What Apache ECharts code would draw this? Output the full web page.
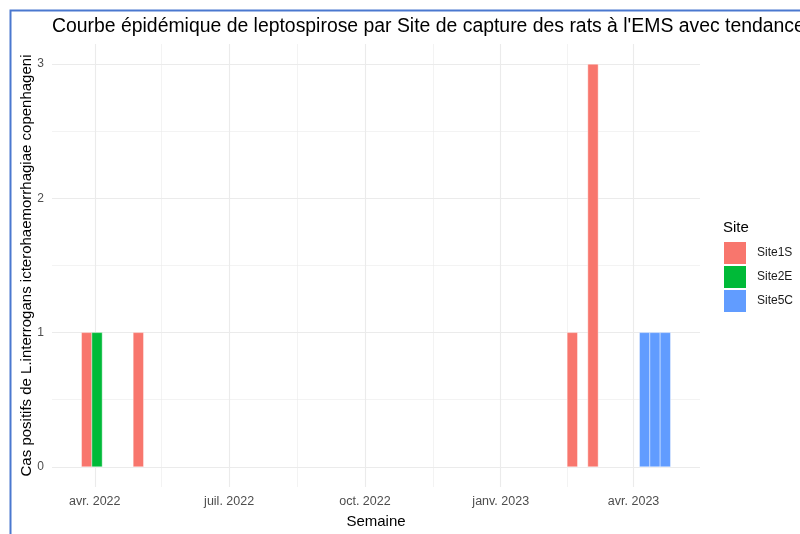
<!DOCTYPE html>
<html>
<head>
<meta charset="utf-8">
<script src="https://cdn.jsdelivr.net/npm/echarts@6/dist/echarts.min.js"></script>
<style>
  html, body { margin: 0; padding: 0; background: #ffffff; }
  #chart { width: 800px; height: 534px; }
</style>
</head>
<body>
<div id="chart"></div>
<script>
// Weekly bins (week start dates) and positive case counts per capture site
const weekStarts = ['2022-03-23', '2022-03-30', '2022-04-27', '2023-02-15', '2023-03-01', '2023-04-05', '2023-04-12', '2023-04-19'];
const site1S = [1, 0, 1, 1, 3, 0, 0, 0];
const site2E = [0, 1, 0, 0, 0, 0, 0, 0];
const site5C = [0, 0, 0, 0, 0, 1, 1, 1];
const siteNames = ['Site1S', 'Site2E', 'Site5C'];
const siteColors = ['#F8766D', '#00BA38', '#619CFF'];

// Axis breaks
const xBreakDates = ['2022-04-01', '2022-07-01', '2022-10-01', '2023-01-01', '2023-04-01'];
const xBreakLabels = ['avr. 2022', 'juil. 2022', 'oct. 2022', 'janv. 2023', 'avr. 2023'];
const xMinorDates = ['2022-05-16', '2022-08-16', '2022-11-16', '2023-02-15'];
const yBreaks = [0, 1, 2, 3];
const yMinorBreaks = [0.5, 1.5, 2.5];

const DAY = 86400000;
const ts = d => new Date(d + 'T00:00:00').getTime();
const xBreaks = xBreakDates.map(ts);
const xMinor = xMinorDates.map(ts);

const xMin = ts('2022-03-03');
const xMax = ts('2023-05-16');

function seriesFor(name, counts, color) {
  return {
    name: name,
    type: 'custom',
    xAxisIndex: 0,
    yAxisIndex: 0,
    itemStyle: { color: color },
    data: weekStarts.map((d, i) => [ts(d), counts[i]]).filter(p => p[1] > 0),
    encode: { x: 0, y: 1 },
    renderItem: function (params, api) {
      const start = api.value(0);
      const count = api.value(1);
      const topLeft = api.coord([start, count]);
      const bottomRight = api.coord([start + 7 * DAY, 0]);
      return {
        type: 'rect',
        shape: {
          x: topLeft[0],
          y: topLeft[1],
          width: bottomRight[0] - topLeft[0],
          height: bottomRight[1] - topLeft[1]
        },
        style: {
          fill: color,
          stroke: 'rgba(255,255,255,0.7)',
          lineWidth: 0.6
        }
      };
    }
  };
}

const grid = { left: 52, top: 44, width: 648, height: 443 };
const gridColor = '#ebebeb';

const option = {
  animation: false,
  backgroundColor: '#ffffff',
  textStyle: { fontFamily: 'Liberation Sans, Arial, sans-serif' },
  title: {
    text: "Courbe épidémique de leptospirose par Site de capture des rats à l'EMS avec tendance",
    left: 47,
    top: 12,
    textStyle: { fontSize: 19.4, fontWeight: 'normal', color: '#000000', fontFamily: 'Liberation Sans, Arial, sans-serif' }
  },
  grid: grid,
  legend: {
    orient: 'vertical',
    left: 719,
    top: 237,
    itemWidth: 22,
    itemHeight: 22,
    itemGap: 2,
    icon: 'rect',
    data: siteNames,
    selectedMode: false,
    textStyle: { fontSize: 12, color: '#1a1a1a', padding: [0, 0, 0, 6] }
  },
  graphic: [
    {
      type: 'text',
      left: 723,
      top: 220,
      style: { text: 'Site', fontSize: 15, fill: '#000000', fontFamily: 'Liberation Sans, Arial, sans-serif' }
    },
    {
      type: 'rect',
      shape: { x: 10.5, y: 10.5, width: 820, height: 560 },
      style: { fill: 'none', stroke: '#4a78cf', lineWidth: 2 },
      z: 100
    }
  ],
  xAxis: [
    {
      type: 'value',
      min: xMin,
      max: xMax,
      name: 'Semaine',
      nameLocation: 'middle',
      nameGap: 27,
      nameTextStyle: { fontSize: 15, color: '#000000' },
      axisLine: { show: false },
      axisTick: { show: false, customValues: xBreaks },
      axisLabel: {
        customValues: xBreaks,
        fontSize: 12.5,
        color: '#4d4d4d',
        margin: 8,
        formatter: v => xBreakLabels[xBreaks.indexOf(v)] || ''
      },
      splitLine: { show: true, lineStyle: { color: gridColor, width: 1.1 } }
    },
    {
      type: 'value',
      min: xMin,
      max: xMax,
      position: 'bottom',
      axisLine: { show: false },
      axisTick: { show: false, customValues: xMinor },
      axisLabel: { show: false, customValues: xMinor },
      splitLine: { show: true, lineStyle: { color: gridColor, width: 0.6 } }
    }
  ],
  yAxis: [
    {
      type: 'value',
      min: -0.15,
      max: 3.15,
      name: 'Cas positifs de L.interrogans icterohaemorrhagiae copenhageni',
      nameLocation: 'middle',
      nameGap: 18,
      nameMoveOverlap: false,
      nameTextStyle: { fontSize: 15, color: '#000000' },
      axisLine: { show: false },
      axisTick: { show: false, customValues: yBreaks },
      axisLabel: { customValues: yBreaks, fontSize: 12, color: '#4d4d4d', margin: 8 },
      splitLine: { show: true, lineStyle: { color: gridColor, width: 1.1 } }
    },
    {
      type: 'value',
      min: -0.15,
      max: 3.15,
      position: 'left',
      axisLine: { show: false },
      axisTick: { show: false, customValues: yMinorBreaks },
      axisLabel: { show: false, customValues: yMinorBreaks },
      splitLine: { show: true, lineStyle: { color: gridColor, width: 0.6 } }
    }
  ],
  series: [
    seriesFor(siteNames[0], site1S, siteColors[0]),
    seriesFor(siteNames[1], site2E, siteColors[1]),
    seriesFor(siteNames[2], site5C, siteColors[2])
  ]
};

const chart = echarts.init(document.getElementById('chart'), null, { renderer: 'canvas' });
chart.setOption(option);
</script>
</body>
</html>
